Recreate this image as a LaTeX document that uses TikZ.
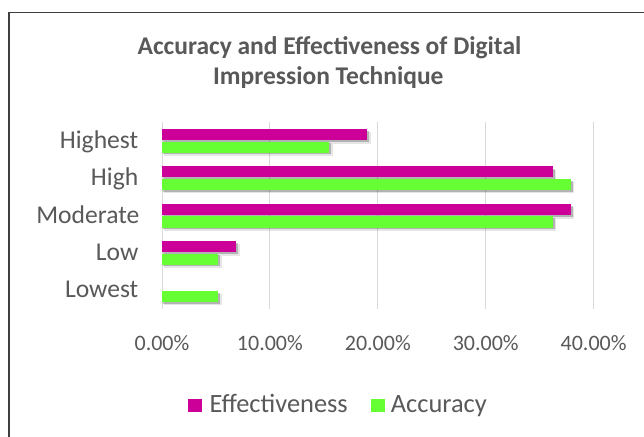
\documentclass[tikz,border=0pt]{standalone}
\usepackage{fontspec}
\setmainfont{Carlito}
\definecolor{eff}{HTML}{CC0099}
\definecolor{acc}{HTML}{66FF33}
\definecolor{txt}{HTML}{595959}
\definecolor{gridc}{HTML}{D9D9D9}
\definecolor{framec}{HTML}{3F3F3F}
\begin{document}
\begin{tikzpicture}[x=1pt,y=-1pt,
  lbl/.style={text=txt,inner sep=0pt,font=\fontsize{25.6}{30}\selectfont},
  leglbl/.style={text=txt,inner sep=0pt,font=\fontsize{26.4}{30}\selectfont},
  ticklbl/.style={text=txt,inner sep=0pt,font=\fontsize{22}{26}\selectfont},
  titlelbl/.style={text=txt,inner sep=0pt,font=\fontsize{25.5}{30}\selectfont\bfseries},
  gridline/.style={draw=gridc,line width=1pt},
  framel/.style={draw=framec,line width=1.5pt},
  shadowa/.style={fill=black,opacity=0.22},
  shadowb/.style={fill=black,opacity=0.10}]
\fill[white] (0,0) rectangle (644,436);
\useasboundingbox (0,0) rectangle (644,436);
\draw[framel] (9,437) -- (9,12.5) -- (645,12.5);
% title
\node[titlelbl,anchor=base] (t1) at (329.5,54) {Accuracy and Effectiveness of Digital};
\node[titlelbl,anchor=base] (t2) at (328.3,84) {Impression Technique};
% gridlines
\foreach \k in {0,...,4}{
  \draw[gridline] ({162+107.9*\k},122) -- ({162+107.9*\k},309);
}
% shadows
\foreach \i/\e/\a in {0/19.0/15.5,1/36.2/37.9,2/37.9/36.2,3/6.9/5.2,4/0/5.2}{
  \pgfmathsetmacro{\c}{140.7+37.4*\i}
  \pgfmathsetmacro{\xe}{162+10.79*\e}
  \pgfmathsetmacro{\xa}{162+10.79*\a}
  \ifdim \e pt>0pt
    \fill[shadowb] (164,\c-8.5) rectangle (\xe+3.5,\c+3);
    \fill[shadowa] (163,\c-9.5) rectangle (\xe+2,\c+1.5);
  \fi
  \fill[shadowb] (164,\c+3.5) rectangle (\xa+3.5,\c+15);
  \fill[shadowa] (163,\c+2.5) rectangle (\xa+2,\c+13.5);
}
% bars
\foreach \i/\e/\a in {0/19.0/15.5,1/36.2/37.9,2/37.9/36.2,3/6.9/5.2,4/0/5.2}{
  \pgfmathsetmacro{\c}{140.7+37.4*\i}
  \pgfmathsetmacro{\xe}{162+10.79*\e}
  \pgfmathsetmacro{\xa}{162+10.79*\a}
  \ifdim \e pt>0pt
    \fill[eff] (162,\c-11.7) rectangle (\xe,\c-0.8);
  \fi
  \fill[acc] (162,\c+0.8) rectangle (\xa,\c+12);
}
% category labels
\node[lbl,anchor=base east] (c0) at (138.5,148.3) {Highest};
\node[lbl,anchor=base east] (c1) at (138.5,185.7) {High};
\node[lbl,anchor=base east] (c2) at (139.5,223.1) {Moderate};
\node[lbl,anchor=base east] (c3) at (138.5,260.5) {Low};
\node[lbl,anchor=base east] (c4) at (138.5,297.9) {Lowest};
% tick labels
\node[ticklbl,anchor=base] (x0) at (162,350.7) {0.00\%};
\node[ticklbl,anchor=base] (x1) at (269.9,350.7) {10.00\%};
\node[ticklbl,anchor=base] (x2) at (377.8,350.7) {20.00\%};
\node[ticklbl,anchor=base] (x3) at (485.7,350.7) {30.00\%};
\node[ticklbl,anchor=base] (x4) at (593.6,350.7) {40.00\%};
% legend
\fill[eff] (188,399) rectangle (201.5,412.3);
\node[leglbl,anchor=base west] (le) at (209.3,412.3) {Effectiveness};
\fill[acc] (371,399) rectangle (384.5,412.3);
\node[leglbl,anchor=base west] (la) at (390.7,412.3) {Accuracy};
\end{tikzpicture}
\end{document}
